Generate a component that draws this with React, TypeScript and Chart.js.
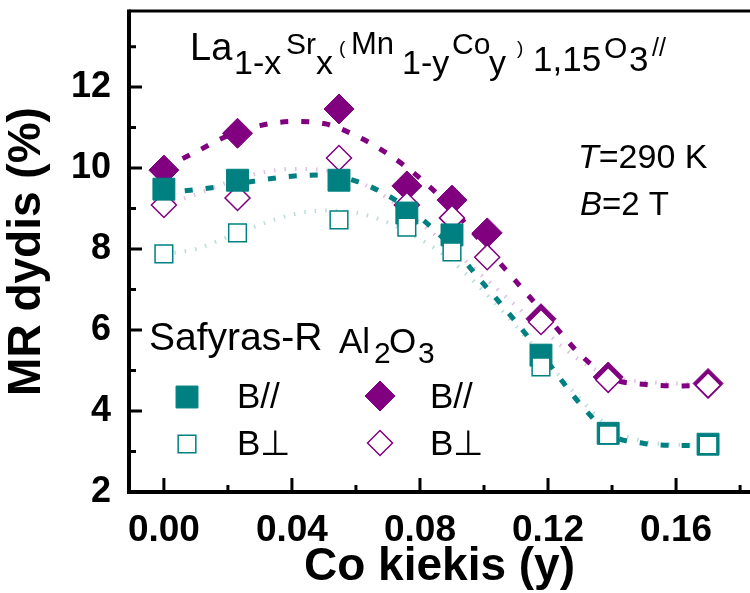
import React, { useEffect, useRef } from "react";
import { Chart, registerables } from "chart.js";

Chart.register(...registerables);

const FONT = '"Liberation Sans", Arial, Helvetica, sans-serif';
const TEAL = "#008080";
const PURPLE = "#800080";

// axis ticks
const X_TICKS = [0, 0.04, 0.08, 0.12, 0.16];
const X_TICK_LABELS = ["0.00", "0.04", "0.08", "0.12", "0.16"];
const X_MINOR = [0.02, 0.06, 0.1, 0.14, 0.18];
const Y_TICKS = [2, 4, 6, 8, 10, 12];
const Y_TICK_LABELS = ["2", "4", "6", "8", "10", "12"];
const Y_MINOR = [3, 5, 7, 9, 11, 13];
const X_MIN = -0.0109;
const X_MAX = 0.1831;
const Y_MIN = 2;
const Y_MAX = 13.88;

// measured points: sapphire-R substrate (squares)
const sapphireX = [0, 0.023, 0.0547, 0.0759, 0.09, 0.1178, 0.1388, 0.17];
const sapphireParY = [9.48, 9.7, 9.7, 8.89, 8.35, 5.38, 3.45, 3.18];
const sapphirePerpY = [7.88, 8.4, 8.72, 8.54, 7.93, 5.09, 3.41, 3.16];
// Al2O3 substrate (diamonds)
const aluminaX = [0, 0.023, 0.0547, 0.0759, 0.09, 0.101, 0.1178, 0.1388, 0.17];
const aluminaParY = [9.95, 10.86, 11.46, 9.56, 9.21, 8.4, 6.28, 4.84, 4.68];
const aluminaPerpY = [9.09, 9.26, 10.25, 9.09, 8.77, 7.8, 6.2, 4.77, 4.64];

// guide curves
const fitX = [0, 0.01, 0.02, 0.03, 0.04, 0.05, 0.06, 0.07, 0.08, 0.09, 0.1, 0.11, 0.12, 0.13, 0.14, 0.15, 0.16, 0.17];
const fitAluminaPar = [10.0, 10.4, 10.8, 11.05, 11.15, 11.1, 10.8, 10.35, 9.75, 9.0, 8.1, 7.2, 6.3, 5.4, 4.8, 4.66, 4.62, 4.64];
const fitSapphirePar = [9.38, 9.47, 9.57, 9.7, 9.8, 9.83, 9.68, 9.32, 8.78, 8.05, 7.13, 6.2, 5.2, 4.18, 3.4, 3.2, 3.15, 3.15];
const fitAluminaPerp = [9.1, 9.35, 9.65, 9.88, 9.98, 9.95, 9.7, 9.25, 8.65, 8.0, 7.3, 6.6, 5.9, 5.25, 4.85, 4.72, 4.68, 4.66];
const fitSapphirePerp = [7.88, 8.0, 8.3, 8.6, 8.85, 8.95, 8.9, 8.65, 8.25, 7.7, 6.95, 6.1, 5.2, 4.3, 3.55, 3.25, 3.17, 3.15];

type Piece = [string, number, number, number, boolean?];
// text, x, baseline, size, italic
const TITLE_PIECES: Piece[] = [
  ["La", 190, 60, 38],
  ["1-x", 234, 74, 34],
  ["Sr", 286, 54, 30],
  ["x", 316, 74, 34],
  ["(", 339, 54, 19],
  ["Mn", 351, 54, 31],
  ["1-y", 402, 74, 34],
  ["Co", 452, 54, 30],
  ["y", 489, 74, 34],
  [")", 517, 54, 19],
  ["1,15", 533, 71, 35],
  ["O", 604, 58, 30],
  ["3", 629, 71, 35],
  ["//", 652, 56, 25],
];

const pts = (xs: number[], ys: number[]) => xs.map((x, i) => ({ x, y: ys[i] }));

function setFont(ctx: CanvasRenderingContext2D, size: number, italic = false, bold = false) {
  ctx.font = `${italic ? "italic " : ""}${bold ? "bold " : ""}${size}px ${FONT}`;
}

function drawMarker(ctx: CanvasRenderingContext2D, kind: string, x: number, y: number, r: number, fill: string, stroke: string, lw: number) {
  ctx.beginPath();
  if (kind === "rect") {
    const s = r * Math.SQRT1_2;
    ctx.rect(x - s, y - s, 2 * s, 2 * s);
  } else {
    ctx.moveTo(x - r, y);
    ctx.lineTo(x, y - r);
    ctx.lineTo(x + r, y);
    ctx.lineTo(x, y + r);
    ctx.closePath();
  }
  ctx.fillStyle = fill;
  ctx.fill();
  ctx.lineWidth = lw;
  ctx.strokeStyle = stroke;
  ctx.stroke();
}

const decor = {
  id: "decor",
  afterDraw(chart: any) {
    const { ctx, chartArea: a, scales } = chart;
    const xs = scales.x;
    const ys = scales.y;
    ctx.save();
    ctx.strokeStyle = "#000";
    ctx.lineCap = "butt";
    // frame
    ctx.lineWidth = 3;
    ctx.beginPath();
    ctx.moveTo(a.left, a.top);
    ctx.lineTo(a.right, a.top);
    ctx.stroke();
    ctx.lineWidth = 4;
    ctx.beginPath();
    ctx.moveTo(a.left, a.top - 1.5);
    ctx.lineTo(a.left, a.bottom + 2);
    ctx.moveTo(a.left - 2, a.bottom);
    ctx.lineTo(a.right, a.bottom);
    ctx.stroke();
    // inward ticks
    ctx.lineWidth = 3;
    ctx.beginPath();
    Y_TICKS.forEach((v) => {
      const p = ys.getPixelForValue(v);
      ctx.moveTo(a.left, p);
      ctx.lineTo(a.left + 13, p);
    });
    Y_MINOR.forEach((v) => {
      const p = ys.getPixelForValue(v);
      ctx.moveTo(a.left, p);
      ctx.lineTo(a.left + 7, p);
    });
    X_TICKS.forEach((v) => {
      const p = xs.getPixelForValue(v);
      ctx.moveTo(p, a.bottom);
      ctx.lineTo(p, a.bottom - 14);
    });
    X_MINOR.forEach((v) => {
      const p = xs.getPixelForValue(v);
      ctx.moveTo(p, a.bottom);
      ctx.lineTo(p, a.bottom - 7);
    });
    ctx.stroke();

    // title formula
    ctx.fillStyle = "#000";
    ctx.textAlign = "left";
    ctx.textBaseline = "alphabetic";
    TITLE_PIECES.forEach(([t, x, b, s, it]) => {
      setFont(ctx, s, !!it);
      ctx.fillText(t, x, b);
    });

    // conditions
    setFont(ctx, 34, true);
    ctx.fillText("T", 578, 168);
    let w = ctx.measureText("T").width;
    setFont(ctx, 34);
    ctx.fillText("=290 K", 578 + w, 168);
    setFont(ctx, 33, true);
    ctx.fillText("B", 580, 215);
    w = ctx.measureText("B").width;
    setFont(ctx, 33);
    ctx.fillText("=2 T", 580 + w, 215);

    // legend
    setFont(ctx, 39);
    ctx.fillText("Safyras-R", 149, 350);
    setFont(ctx, 35);
    ctx.fillText("Al", 339, 353);
    setFont(ctx, 30);
    ctx.fillText("2", 374, 363);
    setFont(ctx, 35);
    ctx.fillText("O", 389, 353);
    setFont(ctx, 30);
    ctx.fillText("3", 418, 363);

    setFont(ctx, 35);
    ctx.fillText("B//", 237, 408);
    ctx.fillText("B\u22A5", 237, 455);
    ctx.fillText("B//", 430, 408);
    ctx.fillText("B\u22A5", 430, 455);

    drawMarker(ctx, "rect", 187, 397, 15.5, TEAL, TEAL, 1);
    drawMarker(ctx, "rect", 187, 444, 12.5, "#fff", TEAL, 1.5);
    drawMarker(ctx, "diamond", 380, 396, 15, PURPLE, PURPLE, 1);
    drawMarker(ctx, "diamond", 380, 443, 12.5, "#fff", PURPLE, 1.5);
    ctx.restore();
  },
};

export default function App() {
  const ref = useRef<HTMLCanvasElement>(null);
  useEffect(() => {
    document.body.style.margin = "0";
    const canvas = ref.current;
    if (!canvas) return;
    const line = (xs: number[], ys: number[], color: string, width: number, dash: number[], order: number) => ({
      data: pts(xs, ys),
      showLine: true,
      borderColor: color,
      borderWidth: width,
      borderDash: dash,
      pointRadius: 0,
      pointHoverRadius: 0,
      cubicInterpolationMode: "monotone" as const,
      fill: false,
      order,
    });
    const marks = (xs: number[], ys: number[], style: string, r: number, fill: string, stroke: string, lw: number, order: number) => ({
      data: pts(xs, ys),
      showLine: false,
      pointStyle: style,
      pointRadius: r,
      pointHoverRadius: r,
      pointBackgroundColor: fill,
      pointBorderColor: stroke,
      pointBorderWidth: lw,
      order,
    });
    const chart = new Chart(canvas, {
      type: "scatter",
      data: {
        datasets: [
          line(fitX, fitSapphirePerp, "rgba(0,128,128,0.28)", 4, [1.5, 9], 9),
          line(fitX, fitAluminaPerp, "rgba(128,0,128,0.25)", 4, [1.5, 9], 8),
          line(fitX, fitSapphirePar, TEAL, 5, [8, 13], 7),
          line(fitX, fitAluminaPar, PURPLE, 5, [8, 13], 6),
          marks(aluminaX, aluminaParY, "rectRot", 15, PURPLE, PURPLE, 1, 4),
          marks(aluminaX, aluminaPerpY, "rectRot", 12.5, "#fff", PURPLE, 1.5, 3),
          marks(sapphireX, sapphireParY, "rect", 15.5, TEAL, TEAL, 1, 2),
          marks(sapphireX, sapphirePerpY, "rect", 12.5, "#fff", TEAL, 1.5, 1),
        ] as any,
      },
      options: {
        responsive: false,
        animation: false,
        devicePixelRatio: 1,
        layout: { padding: { top: 11, right: 0, bottom: 0, left: 0 }, autoPadding: false },
        plugins: { legend: { display: false }, tooltip: { enabled: false } },
        scales: {
          x: {
            type: "linear",
            min: X_MIN,
            max: X_MAX,
            afterBuildTicks: (s: any) => {
              s.ticks = X_TICKS.map((v) => ({ value: v }));
            },
            afterFit: (s: any) => {
              s.height = 101;
              s.paddingLeft = 0;
              s.paddingRight = 0;
            },
            ticks: {
              callback: (_v: any, i: number) => X_TICK_LABELS[i],
              font: { family: FONT, size: 37, weight: "bold" },
              color: "#000",
              padding: 17,
              maxRotation: 0,
              autoSkip: false,
            },
            grid: { display: false, drawTicks: false },
            border: { display: false },
            title: {
              display: true,
              text: "Co kiekis (y)",
              font: { family: FONT, size: 46, weight: "bold" },
              color: "#000",
              padding: { top: 0, bottom: -2 },
            },
          },
          y: {
            type: "linear",
            min: Y_MIN,
            max: Y_MAX,
            afterBuildTicks: (s: any) => {
              s.ticks = Y_TICKS.map((v) => ({ value: v }));
            },
            afterFit: (s: any) => {
              s.width = 129;
              s.paddingTop = 0;
              s.paddingBottom = 0;
            },
            ticks: {
              callback: (_v: any, i: number) => Y_TICK_LABELS[i],
              font: { family: FONT, size: 36, weight: "bold" },
              color: "#000",
              padding: 18,
              autoSkip: false,
            },
            grid: { display: false, drawTicks: false },
            border: { display: false },
            title: {
              display: true,
              text: "MR dydis (%)",
              font: { family: FONT, size: 46, weight: "bold" },
              color: "#000",
              padding: { top: 0, bottom: 0 },
            },
          },
        },
      },
      plugins: [decor],
    } as any);
    return () => chart.destroy();
  }, []);
  return (
    <div style={{ width: 750, height: 593 }}>
      <canvas ref={ref} width={750} height={593} style={{ display: "block" }} />
    </div>
  );
}
